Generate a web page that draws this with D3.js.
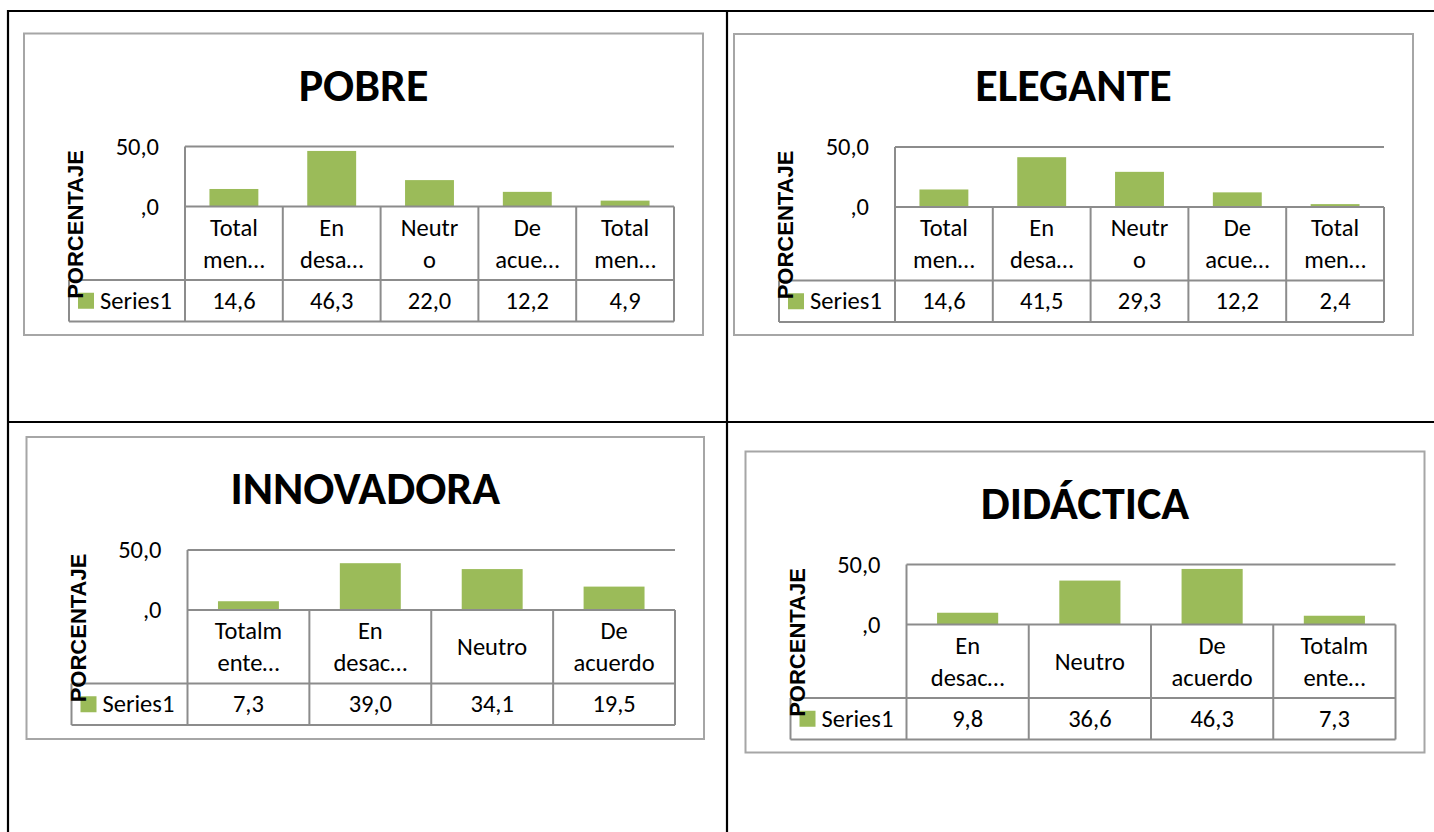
<!DOCTYPE html>
<html>
<head>
<meta charset="utf-8">
<script src="https://cdn.jsdelivr.net/npm/d3@7/dist/d3.min.js"></script>
<style>
  html, body { margin: 0; padding: 0; background: #fff; }
  svg { display: block; }
</style>
</head>
<body>
<svg id="chart" width="1434" height="832"></svg>
<script>
// ---------- DATA ----------
const chartTitles = ["POBRE", "ELEGANTE", "INNOVADORA", "DIDÁCTICA"];

const pobreCategories = ["Total\nmen…", "En\ndesa…", "Neutr\no", "De\nacue…", "Total\nmen…"];
const pobreValues = [14.6, 46.3, 22.0, 12.2, 4.9];

const eleganteCategories = ["Total\nmen…", "En\ndesa…", "Neutr\no", "De\nacue…", "Total\nmen…"];
const eleganteValues = [14.6, 41.5, 29.3, 12.2, 2.4];

const innovadoraCategories = ["Totalm\nente…", "En\ndesac…", "Neutro", "De\nacuerdo"];
const innovadoraValues = [7.3, 39.0, 34.1, 19.5];

const didacticaCategories = ["En\ndesac…", "Neutro", "De\nacuerdo", "Totalm\nente…"];
const didacticaValues = [9.8, 36.6, 46.3, 7.3];

const yTicks = [0, 50];
const yTickLabels = [",0", "50,0"];
const seriesName = "Series1";
const yAxisTitle = "PORCENTAJE";

// ---------- STYLE / LAYOUT ----------
const BAR = "#9bbb59";
const GRID = "#8c8c8c";
const FRAME = "#a6a6a6";
const FONT = "Carlito, Lato, 'Open Sans', sans-serif";
const FS = 24.5;

// frame boxes for each chart (x0, y0, x1, y1)
const frames = [
  [24, 33.5, 703, 335],
  [734, 34, 1413, 335],
  [26.5, 437, 704, 739],
  [745.5, 451.5, 1424.5, 752.5]
];
const datasets = [
  [pobreCategories, pobreValues],
  [eleganteCategories, eleganteValues],
  [innovadoraCategories, innovadoraValues],
  [didacticaCategories, didacticaValues]
];

const svg = d3.select("#chart");

// outer document table lines
const outer = svg.append("g").attr("stroke", "#000").attr("stroke-width", 2.2);
outer.append("line").attr("x1", 7).attr("x2", 1434).attr("y1", 11).attr("y2", 11);
outer.append("line").attr("x1", 8).attr("x2", 8).attr("y1", 10).attr("y2", 832);
outer.append("line").attr("x1", 727).attr("x2", 727).attr("y1", 10).attr("y2", 832);
outer.append("line").attr("x1", 7).attr("x2", 1434).attr("y1", 422).attr("y2", 422);

frames.forEach((f, i) => {
  const [fx0, fy0, fx1, fy1] = f;
  const cats = datasets[i][0];
  const vals = datasets[i][1];
  const g = svg.append("g");

  // frame
  g.append("rect")
    .attr("x", fx0).attr("y", fy0)
    .attr("width", fx1 - fx0).attr("height", fy1 - fy0)
    .attr("fill", "#fff").attr("stroke", FRAME).attr("stroke-width", 2);

  const plotL = fx0 + 161;
  const plotR = fx1 - 29;
  const top = fy0 + 113;
  const zero = top + 60;
  const catBottom = zero + 73.5;
  const valBottom = catBottom + 41.5;
  const legendL = fx0 + 45;

  // title
  g.append("text")
    .attr("x", (fx0 + fx1) / 2).attr("y", fy0 + 67)
    .attr("text-anchor", "middle")
    .attr("font-family", FONT).attr("font-weight", "bold")
    .attr("font-size", 46).attr("fill", "#000")
    .text(chartTitles[i]);

  const x = d3.scaleBand().domain(d3.range(cats.length))
    .range([plotL, plotR]).paddingInner(0.5).paddingOuter(0.25);
  const step = x.step();
  const y = d3.scaleLinear().domain([0, 50]).range([zero, top]);

  // gridline at 50
  g.append("line")
    .attr("x1", plotL).attr("x2", plotR)
    .attr("y1", y(50)).attr("y2", y(50))
    .attr("stroke", GRID).attr("stroke-width", 2);

  // bars
  g.selectAll("rect.bar").data(vals).enter().append("rect")
    .attr("class", "bar")
    .attr("x", (d, j) => x(j)).attr("width", x.bandwidth())
    .attr("y", d => y(d)).attr("height", d => y(0) - y(d))
    .attr("fill", BAR);

  // tick labels
  g.selectAll("text.tick").data(yTicks).enter().append("text")
    .attr("class", "tick")
    .attr("x", plotL - 26).attr("y", d => y(d) + 8)
    .attr("text-anchor", "end")
    .attr("font-family", FONT).attr("font-size", FS).attr("fill", "#000")
    .text((d, j) => yTickLabels[j]);

  // data table lines
  const tl = g.append("g").attr("stroke", GRID).attr("stroke-width", 2).attr("fill", "none");
  tl.append("line").attr("x1", plotL).attr("x2", plotR).attr("y1", zero).attr("y2", zero);
  tl.append("line").attr("x1", legendL).attr("x2", plotR).attr("y1", catBottom).attr("y2", catBottom);
  tl.append("line").attr("x1", legendL).attr("x2", plotR).attr("y1", valBottom).attr("y2", valBottom);
  tl.append("line").attr("x1", legendL).attr("x2", legendL).attr("y1", catBottom).attr("y2", valBottom);
  tl.append("line").attr("x1", plotL).attr("x2", plotL).attr("y1", top).attr("y2", valBottom);
  d3.range(1, cats.length + 1).forEach(k => {
    const xx = plotL + k * step;
    tl.append("line").attr("x1", xx).attr("x2", xx).attr("y1", zero).attr("y2", valBottom);
  });

  // category labels
  const catMid = (zero + catBottom) / 2;
  cats.forEach((c, j) => {
    const lines = c.split("\n");
    const cx = x(j) + x.bandwidth() / 2;
    lines.forEach((ln, k) => {
      const by = catMid + 8.5 + (k - (lines.length - 1) / 2) * 32;
      g.append("text")
        .attr("x", cx).attr("y", by)
        .attr("text-anchor", "middle")
        .attr("font-family", FONT).attr("font-size", FS).attr("fill", "#000")
        .text(ln);
    });
  });

  // values row
  const valMid = (catBottom + valBottom) / 2;
  g.selectAll("text.val").data(vals).enter().append("text")
    .attr("class", "val")
    .attr("x", (d, j) => x(j) + x.bandwidth() / 2).attr("y", valMid + 8)
    .attr("text-anchor", "middle")
    .attr("font-family", FONT).attr("font-size", FS).attr("fill", "#000")
    .text(d => d3.format(".1f")(d).replace(".", ","));

  // legend key
  g.append("rect")
    .attr("x", legendL + 9).attr("y", valMid - 8)
    .attr("width", 16).attr("height", 16).attr("fill", BAR);
  g.append("text")
    .attr("x", legendL + 31).attr("y", valMid + 8)
    .attr("font-family", FONT).attr("font-size", FS).attr("fill", "#000")
    .text(seriesName);

  // y axis title (drawn on top)
  g.append("text")
    .attr("transform", `translate(${fx0 + 59},${fy0 + 191}) rotate(-90)`)
    .attr("text-anchor", "middle")
    .attr("font-family", "'Liberation Sans', Arial, sans-serif")
    .attr("font-weight", "bold").attr("font-size", 22).attr("fill", "#000")
    .text(yAxisTitle);
});
</script>
</body>
</html>
